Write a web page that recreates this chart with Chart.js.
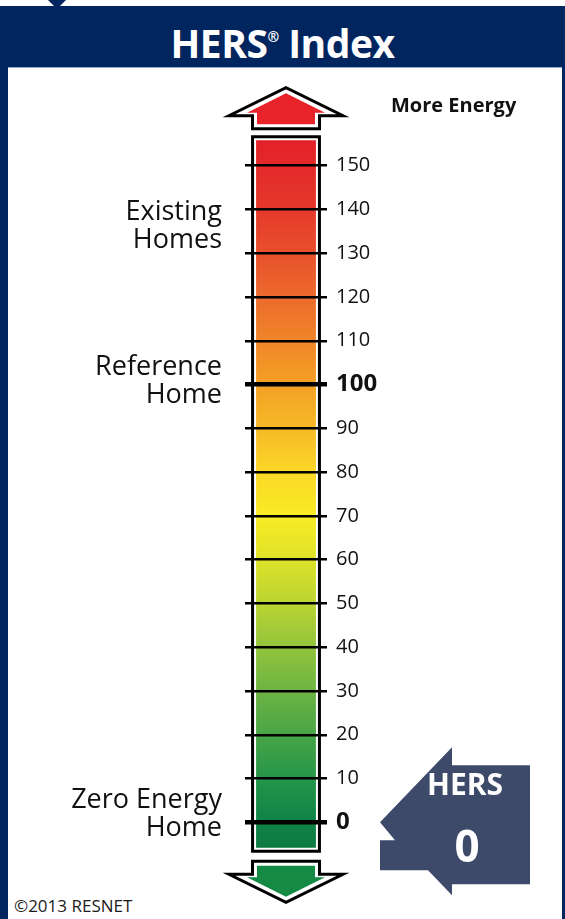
<!DOCTYPE html>
<html>
<head>
<meta charset="utf-8">
<title>HERS Index</title>
<script src="https://cdn.jsdelivr.net/npm/chart.js@4.4.1/dist/chart.umd.min.js"></script>
<style>
  html, body { margin: 0; padding: 0; }
  body { width: 565px; height: 919px; position: relative; overflow: hidden; background: #fff; font-family: 'Open Sans', sans-serif; }
  #frame { position: absolute; left: 0; top: 6px; width: 565px; height: 913px; background: #00255f; }
  #panel { position: absolute; left: 8px; top: 67px; right: 3px; bottom: 0; background: #fff; border-top: 1px solid #9aabc9; }
  #notch { position: absolute; left: 48px; top: 0; width: 0; height: 0; border-left: 9px solid transparent; border-right: 9px solid transparent; border-top: 9px solid #00255f; }
  #title { position: absolute; left: 0; top: 6px; width: 565px; height: 61px; line-height: 61px; text-align: center; color: #fff; font-weight: 700; font-size: 39px; letter-spacing: -0.5px; }
  #title .reg { font-size: 14px; vertical-align: 16px; }
  #copy { position: absolute; left: 14px; top: 894px; font-size: 17px; color: #1a1a1a; }
  #wrap { position: absolute; left: 0; top: 0; width: 565px; height: 919px; }
</style>
</head>
<body>
<div id="notch"></div>
<div id="frame"></div>
<div id="panel"></div>
<div id="title">HERS<span class="reg">®</span> Index</div>
<div id="copy">©2013 RESNET</div>
<div id="wrap"><canvas id="hersChart"></canvas></div>
<script>
// Scale values
const category = ['HERS Index'];
const tickValues = [0, 10, 20, 30, 40, 50, 60, 70, 80, 90, 100, 110, 120, 130, 140, 150];
const boldTicks = [0, 100];
const scaleMin = -7;
const scaleMax = 157;
const barRange = [-5.8, 155.8];

// Side notes, each anchored on a scale value
const noteLines = [['Existing', 'Homes'], ['Reference', 'Home'], ['Zero Energy', 'Home']];
const noteValues = [140, 100, 0];
const topNote = 'More Energy';

// The score badge
const hersLabel = 'HERS';
const hersScore = 0;

// Colour ramp along the bar (value -> colour)
const rampValues = [-6, 0, 10, 20, 30, 40, 50, 60, 70, 80, 90, 100, 110, 120, 130, 140, 150, 156];
const rampColors = ['#0e7a42', '#0f8346', '#249548', '#48a547', '#6db443', '#92c43c', '#bad432', '#dde229',
  '#f8ec25', '#fbd727', '#f7b928', '#f4a024', '#f08629', '#ec6a2c', '#e8502c', '#e5392b', '#e32a29', '#e3202a'];

const FONT = "'Open Sans', sans-serif";
const noteOffsets = [11, -10, -14]; // first baseline relative to anchor, px

function barGradient(c) {
    const chart = c.chart;
    if (!chart.chartArea) return rampColors[0];
    const y = chart.scales.y;
    const p0 = y.getPixelForValue(barRange[0]);
    const p1 = y.getPixelForValue(barRange[1]);
    const g = chart.ctx.createLinearGradient(0, p0, 0, p1);
    const span = barRange[1] - barRange[0];
    rampValues.forEach((v, i) => {
        const t = Math.min(1, Math.max(0, (v - barRange[0]) / span));
        g.addColorStop(t, rampColors[i]);
    });
    return g;
}

function arrowPath(ctx, cx, base, dir, stemHalf, stemLen, wingHalf, headLen) {
    const wy = base + dir * stemLen;
    ctx.beginPath();
    ctx.moveTo(cx - stemHalf, base);
    ctx.lineTo(cx - stemHalf, wy);
    ctx.lineTo(cx - wingHalf, wy);
    ctx.lineTo(cx, wy + dir * headLen);
    ctx.lineTo(cx + wingHalf, wy);
    ctx.lineTo(cx + stemHalf, wy);
    ctx.lineTo(cx + stemHalf, base);
    ctx.closePath();
}

function drawArrow(ctx, cx, base, dir, color) {
    arrowPath(ctx, cx, base, dir, 33.5, 13, 57, 28);
    ctx.fillStyle = '#fff';
    ctx.fill();
    ctx.lineWidth = 3;
    ctx.lineJoin = 'miter';
    ctx.strokeStyle = '#000';
    ctx.stroke();
    arrowPath(ctx, cx, base + dir * 4.5, dir, 29, 11.5, 39, 19.5);
    ctx.fillStyle = color;
    ctx.fill();
}

const hersDecor = {
    id: 'hersDecor',
    beforeDatasetsDraw(chart) {
        const ctx = chart.ctx;
        const bar = chart.getDatasetMeta(0).data[0];
        const top = Math.min(bar.y, bar.base);
        const bottom = Math.max(bar.y, bar.base);
        ctx.save();
        ctx.lineWidth = 3;
        ctx.strokeStyle = '#000';
        ctx.strokeRect(bar.x - bar.width / 2 - 3.5, top - 3.5, bar.width + 7, bottom - top + 7);
        drawArrow(ctx, bar.x, top - 11.5, -1, '#e8232a');
        drawArrow(ctx, bar.x, bottom + 13.5, 1, '#148a44');
        ctx.restore();
    },
    afterDraw(chart) {
        const ctx = chart.ctx;
        const area = chart.chartArea;
        const y = chart.scales.y;
        ctx.save();

        // side notes
        ctx.fillStyle = '#111';
        ctx.font = '27px ' + FONT;
        ctx.textAlign = 'right';
        ctx.textBaseline = 'alphabetic';
        noteLines.forEach((lines, i) => {
            const y0 = y.getPixelForValue(noteValues[i]) + noteOffsets[i];
            lines.forEach((txt, j) => ctx.fillText(txt, area.left - 23, y0 + j * 28));
        });

        // More Energy
        ctx.textAlign = 'left';
        ctx.font = 'bold 20px ' + FONT;
        ctx.fillStyle = '#111';
        ctx.fillText(topNote, area.right + 64, y.getPixelForValue(scaleMax) - 23);

        // score badge
        const ax = area.right + 53;
        const ay = y.getPixelForValue(hersScore);
        const pts = [[0, 0], [72, -75], [72, -57], [150, -57], [150, 62], [72, 62], [72, 73], [48, 48], [0, 48], [0, 18], [15, 18]];
        ctx.beginPath();
        pts.forEach((p, i) => i ? ctx.lineTo(ax + p[0], ay + p[1]) : ctx.moveTo(ax + p[0], ay + p[1]));
        ctx.closePath();
        ctx.fillStyle = '#3e4a69';
        ctx.fill();
        ctx.fillStyle = '#fff';
        ctx.textAlign = 'center';
        ctx.font = 'bold 30px ' + FONT;
        ctx.fillText(hersLabel, ax + 85, ay - 27);
        ctx.font = 'bold 44px ' + FONT;
        ctx.fillText(String(hersScore), ax + 87, ay + 40);
        ctx.restore();
    }
};

const ctx = document.getElementById('hersChart').getContext('2d');
const hersChart = new Chart(ctx, {
    type: 'bar',
    data: {
        labels: category,
        datasets: [{
            data: [barRange],
            backgroundColor: barGradient,
            borderWidth: 0,
            borderSkipped: false,
            barPercentage: 0.73,
            categoryPercentage: 1
        }]
    },
    options: {
        responsive: true,
        maintainAspectRatio: false,
        animation: false,
        layout: { padding: { left: 245, right: 178, top: 135, bottom: 66 } },
        plugins: { legend: { display: false }, tooltip: { enabled: false }, title: { display: false } },
        scales: {
            x: { display: false },
            y: {
                position: 'right',
                min: scaleMin,
                max: scaleMax,
                z: 2, // tick lines over the bar
                afterBuildTicks: (scale) => { scale.ticks = tickValues.map(v => ({ value: v })); },
                afterFit: (scale) => { scale.width = 60; },
                border: { display: false },
                grid: {
                    z: 1,
                    color: '#000',
                    drawTicks: false,
                    lineWidth: (c) => boldTicks.includes(c.tick && c.tick.value) ? 4.5 : 2.5
                },
                ticks: {
                    padding: 9,
                    color: '#111',
                    font: (c) => boldTicks.includes(c.tick && c.tick.value)
                        ? { family: FONT, size: 24, weight: 'bold' }
                        : { family: FONT, size: 20 }
                }
            }
        }
    },
    plugins: [hersDecor]
});
</script>
</body>
</html>
